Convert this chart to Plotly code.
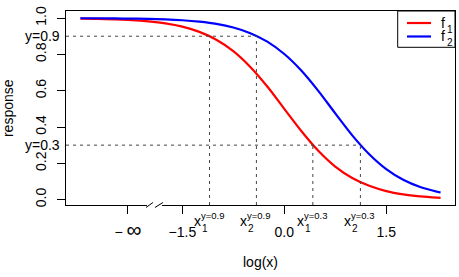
import plotly.graph_objects as go

# curve samples (log(x) scale)
log_x = [-3.0, -2.75, -2.5, -2.25, -2.0, -1.75, -1.5, -1.25, -1.0, -0.75, -0.5, -0.25,
         0.0, 0.25, 0.5, 0.75, 1.0, 1.25, 1.5, 1.75, 2.0, 2.25, 2.3]
f1 = [0.997, 0.996, 0.993, 0.989, 0.982, 0.971, 0.953, 0.924, 0.881, 0.818, 0.731, 0.623,
      0.500, 0.378, 0.269, 0.182, 0.119, 0.076, 0.047, 0.029, 0.018, 0.011, 0.010]
f2 = [0.999, 0.999, 0.998, 0.997, 0.996, 0.993, 0.988, 0.980, 0.968, 0.948, 0.917, 0.870,
      0.802, 0.711, 0.599, 0.475, 0.354, 0.250, 0.168, 0.109, 0.069, 0.043, 0.039]

# response levels and where each curve crosses them
levels = [0.9, 0.3]
level_labels = ["y=0.9", "y=0.3"]
cross_x = {0.9: [-1.10, -0.41], 0.3: [0.42, 1.12]}

# axis ticks
x_tickvals = [-2.3, -1.5, 0.0, 1.5]
x_ticktext = ["\u2212 <span style='font-size:21px'>\u221e</span>", "\u22121.5", "0.0", "1.5"]
y_tickvals = [0.0, 0.2, 0.4, 0.6, 0.8, 1.0]
y_ticktext = ["0.0", "0.2", "0.4", "0.6", "0.8", "1.0"]

legend_names = ["1", "2"]
legend_colors = ["#ff0000", "#0000ff"]

XR = [-3.212, 2.512]
YR = [-0.0297, 1.039]
FONT = "Liberation Sans, Arial, sans-serif"
DASH = dict(color="#444", width=1, dash="3px,4px")

fig = go.Figure()
fig.add_trace(go.Scatter(x=log_x, y=f1, mode="lines", line=dict(color=legend_colors[0], width=2.2, shape="spline"),
                         showlegend=False))
fig.add_trace(go.Scatter(x=log_x, y=f2, mode="lines", line=dict(color=legend_colors[1], width=2.2, shape="spline"),
                         showlegend=False))

shapes = []
annotations = []
for lev, lab in zip(levels, level_labels):
    xs = cross_x[lev]
    # horizontal guide from the left edge to the outer crossing
    shapes.append(dict(type="line", xref="x", yref="y", x0=XR[0], x1=max(xs), y0=lev, y1=lev, line=DASH))
    for i, xc in enumerate(xs):
        shapes.append(dict(type="line", xref="x", yref="y", x0=xc, x1=xc, y0=YR[0], y1=lev, line=DASH))
        # x_i^{y=..} label under the axis
        annotations.append(dict(x=xc, xref="x", y=0, yref="paper", text="x", showarrow=False,
                                xanchor="right", yanchor="middle", xshift=-8, yshift=-15.5,
                                font=dict(size=14), borderpad=0))
        annotations.append(dict(x=xc, xref="x", y=0, yref="paper", text=str(i + 1), showarrow=False,
                                xanchor="left", yanchor="middle", xshift=-9, yshift=-23,
                                font=dict(size=10), borderpad=0))
        annotations.append(dict(x=xc, xref="x", y=0, yref="paper", text=lab, showarrow=False,
                                xanchor="left", yanchor="middle", xshift=-10, yshift=-10,
                                font=dict(size=9.5), borderpad=0))
    annotations.append(dict(x=0, xref="paper", y=lev, yref="y", text=lab, showarrow=False,
                            xanchor="right", yanchor="middle", xshift=-4, font=dict(size=14)))

# axis break on the bottom axis
shapes.append(dict(type="rect", xref="x", yref="paper", x0=-2.020, x1=-1.800, y0=-0.015, y1=0.015,
                   fillcolor="white", line=dict(width=0), layer="above"))
for a, b in [(-2.035, -1.932), (-1.903, -1.785)]:
    shapes.append(dict(type="line", xref="x", yref="paper", x0=a, x1=b, y0=-0.013, y1=0.013,
                       line=dict(color="black", width=1), layer="above"))

# legend box
shapes.append(dict(type="rect", xref="paper", yref="paper", x0=0.8527, x1=1.0, y0=0.8129, y1=1.0,
                   line=dict(color="black", width=1), layer="above"))
for k, (yy, ysub) in enumerate([(0.9381, 0.9046), (0.8686, 0.8387)]):
    shapes.append(dict(type="line", xref="paper", yref="paper", x0=0.8766, x1=0.9383, y0=yy, y1=yy,
                       line=dict(color=legend_colors[k], width=2.2), layer="above"))
    annotations.append(dict(x=0.9704, xref="paper", y=yy, yref="paper", text="f", showarrow=False,
                            xanchor="center", yanchor="middle", font=dict(size=14), borderpad=0))
    annotations.append(dict(x=0.9860, xref="paper", y=ysub, yref="paper", text=legend_names[k],
                            showarrow=False, xanchor="center", yanchor="middle", font=dict(size=10),
                            borderpad=0))

# axis titles
annotations.append(dict(x=-0.149, xref="paper", y=0.5, yref="paper", text="response", textangle=-90,
                        showarrow=False, xanchor="center", yanchor="middle", font=dict(size=14)))
annotations.append(dict(x=0.5, xref="paper", y=0, yref="paper", text="log(x)", showarrow=False,
                        xanchor="center", yanchor="middle", yshift=-57, font=dict(size=14)))

fig.update_layout(
    width=459, height=277,
    margin=dict(l=66, r=4, t=11, b=72),
    paper_bgcolor="white", plot_bgcolor="white",
    font=dict(family=FONT, size=14, color="black"),
    shapes=shapes, annotations=annotations,
    xaxis=dict(range=XR, showgrid=False, zeroline=False, showline=True, mirror=True, automargin=False,
               linecolor="black", linewidth=1, ticks="outside", ticklen=8, tickcolor="black",
               tickvals=x_tickvals, ticktext=x_ticktext, ticklabelstandoff=6,
               tickfont=dict(size=14)),
    yaxis=dict(range=YR, showgrid=False, zeroline=False, showline=True, mirror=True, automargin=False,
               linecolor="black", linewidth=1, ticks="outside", ticklen=8, tickcolor="black",
               tickvals=y_tickvals, ticktext=y_ticktext, tickangle=-90, ticklabelstandoff=5,
               tickfont=dict(size=14)),
)

# drop the default page margin so the figure sits at the window's corner
fig.write_html("out.html", config={"displayModeBar": False},
               post_script="document.body.style.margin='0';")
